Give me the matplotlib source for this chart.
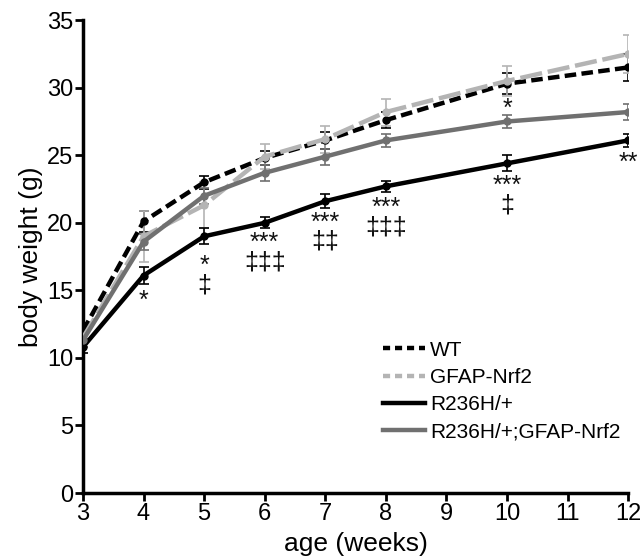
import matplotlib
matplotlib.use("Agg")
import matplotlib.pyplot as plt
from matplotlib.lines import Line2D

weeks = [3, 4, 5, 6, 7, 8, 10, 12]

wt = [12.0, 20.1, 23.0, 24.8, 26.1, 27.6, 30.3, 31.5]
wt_err = [0.6, 0.8, 0.5, 0.5, 0.6, 0.6, 0.8, 1.0]

gfap = [11.5, 19.0, 21.3, 24.9, 26.2, 28.2, 30.5, 32.5]
gfap_err = [0.5, 1.9, 1.7, 0.9, 1.0, 1.0, 1.1, 1.4]

r236h = [10.8, 16.1, 19.0, 20.0, 21.6, 22.7, 24.4, 26.1]
r236h_err = [0.4, 0.6, 0.6, 0.4, 0.5, 0.4, 0.6, 0.5]

r236h_gfap = [11.3, 18.6, 22.0, 23.7, 24.9, 26.1, 27.5, 28.2]
r236h_gfap_err = [0.5, 0.6, 0.6, 0.6, 0.6, 0.5, 0.5, 0.6]

labels = ["WT", "GFAP-Nrf2", "R236H/+", "R236H/+;GFAP-Nrf2"]

# significance annotations: (week, top y value, text)
sig_weeks = [4, 5, 6, 7, 8, 10, 10, 12]
sig_y = [15.1, 17.7, 19.4, 20.9, 22.0, 23.6, 29.3, 25.3]
sig_text = ["*", "*\n‡", "***\n‡‡‡", "***\n‡‡", "***\n‡‡‡", "***\n‡", "*", "**"]

plt.rcParams['font.family'] = ['Liberation Sans', 'DejaVu Sans']

fig = plt.figure(figsize=(6.43, 5.6), dpi=100)
ax = fig.add_axes([0.129, 0.1196, 0.848, 0.8444])

series = [
    (wt, wt_err, "black", (0, (2.6, 1.2)), "black"),
    (gfap, gfap_err, "#b4b4b4", (0, (5.0, 1.3)), "#b4b4b4"),
    (r236h, r236h_err, "black", "-", "black"),
    (r236h_gfap, r236h_gfap_err, "#707070", "-", "#707070"),
]

for (vals, errs, col, ls, ecol), lab in zip(series, labels):
    ax.errorbar(weeks, vals, yerr=errs, fmt="none", ecolor=ecol, elinewidth=1.2,
                capsize=3.5, capthick=1.2, zorder=2)
    ax.plot(weeks, vals, color=col, linestyle=ls, linewidth=3.2, marker="o",
            markersize=5, zorder=3)

leg_handles = [
    Line2D([], [], color="black", linestyle=(0, (1.6, 1.1)), linewidth=3.2),
    Line2D([], [], color="#b4b4b4", linestyle=(0, (1.6, 1.1)), linewidth=3.2),
    Line2D([], [], color="black", linestyle="-", linewidth=3.2),
    Line2D([], [], color="#707070", linestyle="-", linewidth=3.2),
]
ax.legend(leg_handles, labels, loc="upper left", bbox_to_anchor=(0.535, 0.34),
          borderaxespad=0, frameon=False, fontsize=15, handlelength=2.0,
          handletextpad=0.25, labelspacing=0.4)

for w, yv, t in zip(sig_weeks, sig_y, sig_text):
    ax.text(w, yv, t, ha="center", va="top", fontsize=18, color="#111111",
            linespacing=0.75)

ax.set_xlim(3, 12)
ax.set_ylim(0, 35)
ax.set_xticks(range(3, 13))
ax.set_yticks(range(0, 36, 5))
ax.tick_params(axis="both", labelsize=17, width=2, length=6, direction="out", pad=1)
for s in ["top", "right"]:
    ax.spines[s].set_visible(False)
for s in ["left", "bottom"]:
    ax.spines[s].set_linewidth(2.5)
ax.set_xlabel("age (weeks)", fontsize=19, labelpad=5)
ax.set_ylabel("body weight (g)", fontsize=19, labelpad=3)
for sp in ax.spines.values():
    sp.set_clip_on(False)

fig.savefig("out.png", dpi=100)
